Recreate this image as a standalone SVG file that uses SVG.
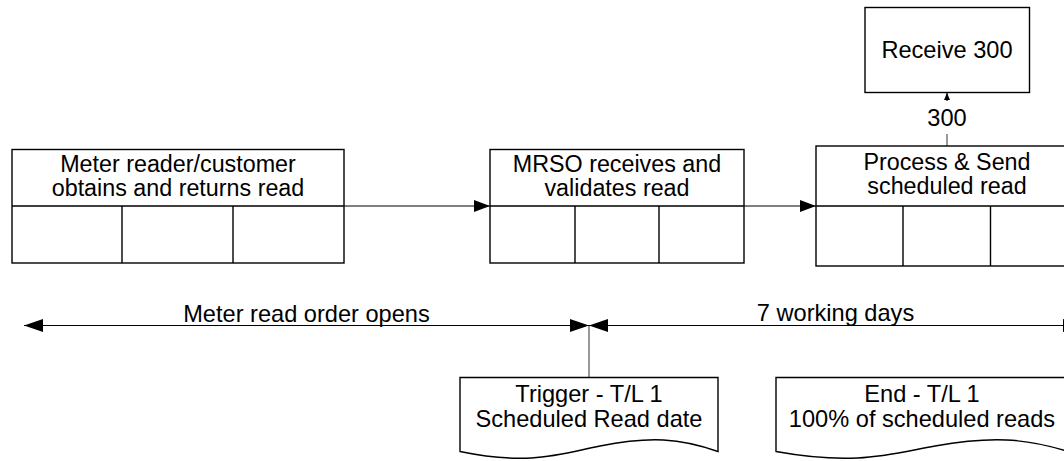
<svg xmlns="http://www.w3.org/2000/svg" width="1064" height="461" viewBox="0 0 1064 461">
<defs>
<style>
.t{font-family:"Liberation Sans",Arial,sans-serif;font-size:23.6px;fill:#000;text-anchor:middle}
.bt{font-size:23.3px}
.box{fill:#fff;stroke:#000;stroke-width:1.4}
.div{fill:none;stroke:#000;stroke-width:1.4}
.ln{fill:none;stroke:#000;stroke-width:1.2}
.gl{fill:none;stroke:#555;stroke-width:1.2}
</style>
<marker id="ah" markerUnits="userSpaceOnUse" markerWidth="16" markerHeight="12" refX="16" refY="6" orient="auto"><path d="M0,0 L16,6 L0,12 z" fill="#000"/></marker>
<marker id="tl" markerUnits="userSpaceOnUse" markerWidth="19" markerHeight="13" refX="19" refY="6.5" orient="auto-start-reverse"><path d="M0,0 L19,6.5 L0,13 z" fill="#000"/></marker>
<marker id="sm" markerUnits="userSpaceOnUse" markerWidth="7" markerHeight="6" refX="7" refY="3" orient="auto"><path d="M0,0 L7,3 L0,6 z" fill="#000"/></marker>
</defs>
<rect width="1064" height="461" fill="#fff"/>
<g id="connectors">
<line class="ln" x1="344" y1="206" x2="490" y2="206" marker-end="url(#ah)"/>
<line class="ln" x1="744" y1="206" x2="816" y2="206" marker-end="url(#ah)"/>
<line class="gl" x1="947" y1="146" x2="947" y2="134"/>
<line class="ln" x1="947" y1="101" x2="947" y2="93" marker-end="url(#sm)"/>
<text class="t" x="947" y="125.5">300</text>
<line class="ln" x1="24" y1="325.5" x2="589" y2="325.5" marker-start="url(#tl)" marker-end="url(#tl)"/>
<text class="t" x="306.5" y="321.5">Meter read order opens</text>
<line class="ln" x1="589" y1="325.5" x2="1082" y2="325.5" marker-start="url(#tl)" marker-end="url(#tl)"/>
<text class="t" x="835.5" y="321">7 working days</text>
<line class="gl" x1="589" y1="326" x2="589" y2="377.5"/>
</g>
<g id="node-meter-reader">
<rect class="box" x="12" y="149.5" width="332" height="113.5"/>
<path class="div" d="M12,206 H344 M122,206 V263 M233,206 V263"/>
<text class="t bt" x="178" y="172">Meter reader/customer</text>
<text class="t bt" x="178" y="196">obtains and returns read</text>
</g>
<g id="node-mrso">
<rect class="box" x="490" y="149.5" width="254" height="113.5"/>
<path class="div" d="M490,206 H744 M575,206 V263 M659,206 V263"/>
<text class="t bt" x="617" y="172">MRSO receives and</text>
<text class="t bt" x="617" y="196">validates read</text>
</g>
<g id="node-process-send">
<rect class="box" x="816" y="146" width="262" height="120"/>
<path class="div" d="M816,206 H1078 M903,206 V266 M990.5,206 V266"/>
<text class="t bt" x="947" y="170">Process &amp; Send</text>
<text class="t bt" x="947" y="194">scheduled read</text>
</g>
<g id="node-receive-300">
<rect class="box" x="865" y="7.5" width="164.5" height="85"/>
<text class="t" x="947" y="57.5">Receive 300</text>
</g>
<g id="node-trigger">
<path class="box" d="M460,377.5 H718 V451.5 C680,438 650,436 600,446 C560,454 530,466 460,451.5 Z"/>
<text class="t" x="589" y="402">Trigger - T/L 1</text>
<text class="t" x="589" y="427">Scheduled Read date</text>
</g>
<g id="node-end">
<path class="box" d="M776,377.5 H1068 V451.5 C1025,438 991,436 935,446 C890,454 856,466 776,451.5 Z"/>
<text class="t" x="922" y="402">End - T/L 1</text>
<text class="t" x="922" y="427">100% of scheduled reads</text>
</g>
</svg>
